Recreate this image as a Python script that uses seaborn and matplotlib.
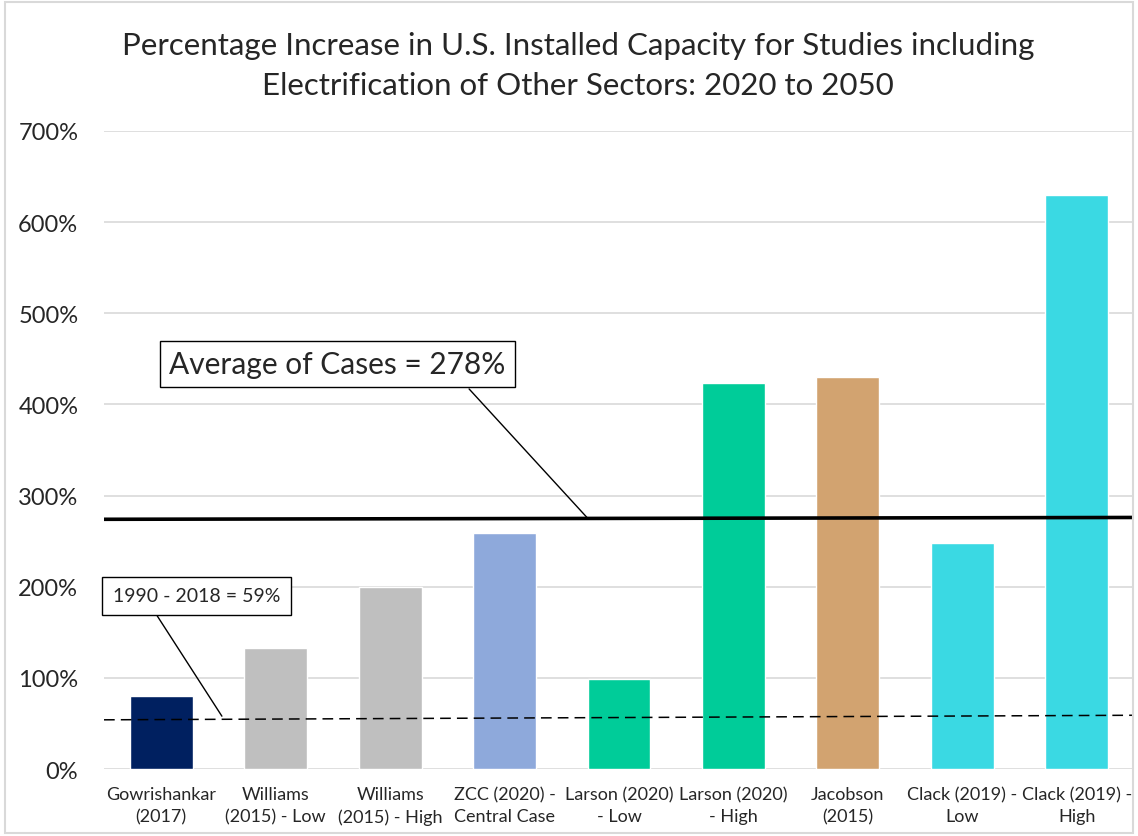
import matplotlib
matplotlib.use("Agg")
import matplotlib.pyplot as plt
from matplotlib.patches import Rectangle
from matplotlib.ticker import FuncFormatter
import seaborn as sns
import pandas as pd

# data
studies = ['Gowrishankar\n(2017)', 'Williams\n(2015) - Low', 'Williams\n(2015) - High',
           'ZCC (2020) -\nCentral Case', 'Larson (2020)\n- Low', 'Larson (2020)\n- High',
           'Jacobson\n(2015)', 'Clack (2019) -\nLow', 'Clack (2019) -\nHigh']
increase = [80, 133, 200, 259, 99, 424, 430, 248, 630]
bar_colors = ['#002060', '#BFBFBF', '#BFBFBF', '#8EA9DB', '#00CC99', '#00CC99',
              '#D2A370', '#3AD9E3', '#3AD9E3']
average_line = [274, 276]     # drawn line, left to right
historic_line = [54, 59]      # 1990 - 2018 dashed line, left to right
average_label = 'Average of Cases = 278%'
historic_label = '1990 - 2018 = 59%'

df = pd.DataFrame({'study': studies, 'increase': increase})

sns.set_style("white")
plt.rcParams['font.family'] = ['Lato', 'DejaVu Sans']

fig = plt.figure(figsize=(11.38, 8.37), dpi=100)
ax = fig.add_axes([0.0914, 0.080, 0.9051, 0.7623])

sns.barplot(data=df, x='study', y='increase', hue='study', palette=bar_colors,
            dodge=False, legend=False, width=0.55, saturation=1, ax=ax)

ax.set_ylim(0, 700)
ax.set_xlim(-0.5, len(studies) - 0.5)
ax.set_yticks(range(0, 701, 100))
ax.yaxis.set_major_formatter(FuncFormatter(lambda v, p: f'{v:.0f}%'))
ax.grid(axis='y', color='#D9D9D9', lw=1.2)
ax.set_axisbelow(True)
sns.despine(left=True, bottom=True, top=True, right=True)
ax.tick_params(left=False, bottom=False, axis='y', labelsize=17, pad=15)
ax.tick_params(axis='x', pad=9, bottom=False, labelsize=13)
for lab in ax.get_xticklabels():
    lab.set_linespacing(1.45)
ax.set_xlabel('')
ax.set_ylabel('')

# reference lines
ax.plot([-0.5, len(studies) - 0.5], average_line, color='black', lw=2.6, zorder=4)
ax.plot([-0.5, len(studies) - 0.5], historic_line, color='black', lw=1.1,
        dashes=(7, 4), zorder=4)

# callouts
ax.plot([2.69, 3.72], [417, 276], color='black', lw=1, zorder=5)
ax.text(1.54, 444, average_label, fontsize=21.5, ha='center', va='center', zorder=6,
        bbox=dict(boxstyle='square,pad=0.3', fc='white', ec='black', lw=1))
ax.plot([-0.035, 0.53], [168, 58], color='black', lw=1, zorder=5)
ax.text(0.31, 190, historic_label, fontsize=14, ha='center', va='center', zorder=6,
        bbox=dict(boxstyle='square,pad=0.55', fc='white', ec='black', lw=1))

fig.suptitle('Percentage Increase in U.S. Installed Capacity for Studies including\n'
             'Electrification of Other Sectors: 2020 to 2050',
             fontsize=22.5, x=0.508, y=0.962, linespacing=1.55)

fig.patches.append(Rectangle((0.004, 0.004), 0.992, 0.992, transform=fig.transFigure,
                             fill=False, ec='#D9D9D9', lw=1.5))

fig.savefig('out.png', dpi=100)
